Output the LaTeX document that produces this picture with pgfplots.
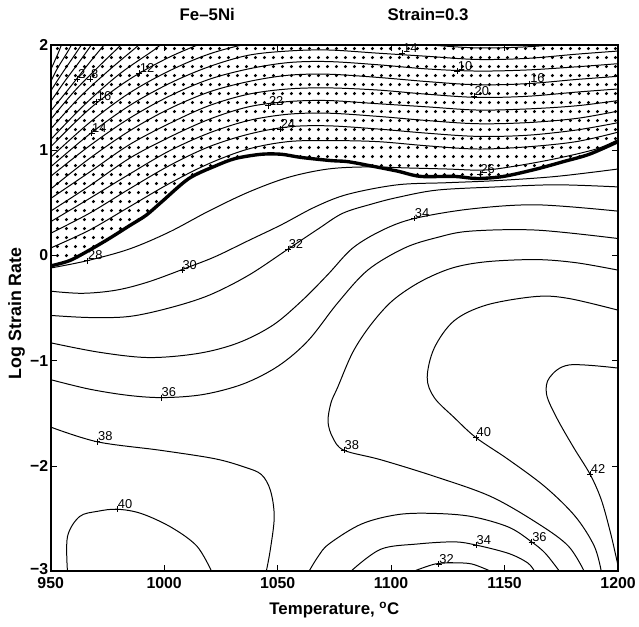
\documentclass[border=0pt]{standalone}
\usepackage{fontspec}
\setmainfont{Liberation Sans}
\usepackage{pgfplots}
\pgfplotsset{compat=1.18}
\usetikzlibrary{patterns}
\pgfdeclarepatternformonly{bigdots}{\pgfqpoint{0bp}{0bp}}{\pgfqpoint{9bp}{9bp}}{\pgfqpoint{9bp}{9bp}}{\pgfpathcircle{\pgfqpoint{4.5bp}{4.5bp}}{1.7bp}\pgfusepath{fill}}
\newcommand{\clabfont}{\fontsize{13}{13}\selectfont}
\newcommand{\clab}[3]{\node[anchor=south west,inner sep=0pt,font=\clabfont,xshift=0.5bp,yshift=0.5bp] at (axis cs:#1,#2) {#3};}
\begin{document}
\begin{tikzpicture}
\begin{axis}[name=ax,
  width=571bp, height=530bp, scale only axis,
  xmin=950, xmax=1200, ymin=-3, ymax=2,
  xtick={950,1000,1050,1100,1150,1200},
  ytick={-3,-2,-1,0,1,2},
  xticklabels={950,1000,1050,1100,1150,1200},
  yticklabels={\raisebox{4bp}{−3},−2,−1,0,1,2},
  tick align=inside, major tick length=6bp,
  major tick style={line width=0.9bp,black},
  axis line style={line width=1.8bp},
  ticklabel style={font=\fontsize{16}{16}\selectfont\bfseries},
  xticklabel style={yshift=-3bp},
  yticklabel style={xshift=1bp},
  clip mode=individual,
  xlabel={Temperature, \textsuperscript{o}C},
  ylabel={Log Strain Rate},
  xlabel style={at={(axis description cs:0.5,-0.074)},anchor=center,font=\fontsize{17}{17}\selectfont\bfseries},
  ylabel style={at={(axis description cs:-0.06,0.49)},anchor=center,font=\fontsize{18}{18}\selectfont\bfseries},
  cl/.style={black,line width=1bp,smooth,tension=0.55,forget plot},
]
% unstable (dotted) region
\addplot[draw=none,pattern=bigdots,pattern color=black,forget plot] coordinates {
(950.0,-0.10) (958.3,-0.05) (967.1,0.05) (975.8,0.16) (984.6,0.28) (992.0,0.38) (999.0,0.51) (1010.9,0.73) (1022.7,0.85) (1031.4,0.92) (1042.8,0.96) (1051.6,0.96) (1060.3,0.93) (1073.5,0.90) (1080.9,0.89) (1091.0,0.85) (1102.8,0.80) (1112.9,0.75) (1127.8,0.75) (1137.8,0.73) (1149.6,0.75) (1164.1,0.82) (1175.9,0.89) (1187.3,0.96) (1200.0,1.08) (1200,2) (950,2)} -- cycle;
% contours in the dotted region
\addplot[cl] coordinates {(950,0.07) (967.1,0.24) (984.6,0.46) (1002.1,0.68) (1019.6,0.87) (1037.1,1.01) (1054.6,1.08) (1072.2,1.09) (1094.0,1.08) (1115.9,1.04) (1137.8,1.01) (1159.7,1.03) (1181.6,1.08) (1200,1.17)};
\addplot[cl] coordinates {(950,0.21) (967.1,0.40) (984.6,0.63) (1002.1,0.85) (1019.6,1.03) (1037.1,1.15) (1054.6,1.22) (1072.2,1.23) (1094.0,1.20) (1115.9,1.16) (1137.8,1.13) (1159.7,1.14) (1181.6,1.19) (1200,1.26)};
\addplot[cl] coordinates {(950,0.32) (967.1,0.54) (984.6,0.77) (1002.1,0.99) (1019.6,1.16) (1037.1,1.28) (1054.6,1.34) (1072.2,1.35) (1094.0,1.32) (1115.9,1.28) (1137.8,1.25) (1159.7,1.26) (1181.6,1.30) (1200,1.37)};
\addplot[cl] coordinates {(950,0.42) (967.1,0.66) (984.6,0.92) (1002.1,1.12) (1019.6,1.29) (1037.1,1.41) (1054.6,1.46) (1072.2,1.47) (1094.0,1.44) (1115.9,1.41) (1137.8,1.38) (1159.7,1.39) (1181.6,1.42) (1200,1.47)};
\addplot[cl] coordinates {(950,0.54) (967.1,0.79) (984.6,1.05) (1002.1,1.25) (1019.6,1.42) (1037.1,1.53) (1054.6,1.58) (1072.2,1.59) (1094.0,1.57) (1115.9,1.53) (1137.8,1.50) (1159.7,1.51) (1181.6,1.55) (1200,1.58)};
\addplot[cl] coordinates {(950,0.63) (967.1,0.92) (984.6,1.18) (1002.1,1.39) (1019.6,1.55) (1037.1,1.65) (1054.6,1.71) (1072.2,1.72) (1094.0,1.69) (1115.9,1.65) (1137.8,1.62) (1159.7,1.63) (1181.6,1.67) (1200,1.70)};
\addplot[cl] coordinates {(950,0.75) (967.1,1.04) (984.6,1.30) (1002.1,1.51) (1019.6,1.67) (1037.1,1.77) (1054.6,1.83) (1072.2,1.84) (1094.0,1.81) (1115.9,1.77) (1137.8,1.75) (1159.7,1.76) (1181.6,1.79) (1200,1.82)};
\addplot[cl] coordinates {(950,0.84) (967.1,1.15) (984.6,1.42) (1002.1,1.63) (1019.6,1.79) (1037.1,1.90) (1054.6,1.94) (1072.2,1.95) (1094.0,1.92) (1115.9,1.89) (1137.8,1.86) (1159.7,1.87) (1181.6,1.91) (1200,1.94)};
\addplot[cl] coordinates {(950,0.93) (967.1,1.26) (984.6,1.54) (1002.1,1.75) (1019.6,1.91) (1037.1,2.01) (1054.6,2.06) (1072.2,2.07) (1094.0,2.04) (1115.9,2.00) (1137.8,1.97) (1159.7,1.98) (1181.6,2.02) (1200,2.06)};
\addplot[cl] coordinates {(950,1.03) (967.1,1.39) (984.6,1.67) (1002.1,1.88) (1019.6,2.04)};
\addplot[cl] coordinates {(950,1.10) (964.9,1.43) (980.2,1.72) (995.5,1.95) (999.9,2.03)};
\addplot[cl] coordinates {(950,1.20) (962.7,1.50) (975.8,1.76) (989.0,2.00) (991,2.05)};
\addplot[cl] coordinates {(950,1.29) (960.5,1.56) (971.5,1.80) (981.1,2.00) (983,2.05)};
\addplot[cl] coordinates {(950,1.37) (958.3,1.59) (967.1,1.83) (973.6,2.00) (975.5,2.05)};
\addplot[cl] coordinates {(950,1.46) (956.1,1.65) (962.7,1.84) (968.0,2.00) (969.6,2.05)};
\addplot[cl] coordinates {(950,1.56) (954.8,1.72) (960.5,1.90) (963.6,2.00) (965,2.05)};
\addplot[cl] coordinates {(950,1.65) (953.1,1.78) (957.4,1.93) (959.2,2.00) (960.5,2.05)};
\addplot[cl] coordinates {(950,1.76) (953.1,1.91) (954.8,2.00) (955.8,2.05)};
% contours in the stable region
\addplot[cl] coordinates {(950.0,-0.12) (966.2,-0.05) (984.6,0.06) (1002.1,0.22) (1019.6,0.42) (1037.1,0.60) (1054.6,0.74) (1072.2,0.82) (1089.7,0.84) (1107.2,0.83) (1124.7,0.82) (1140.9,0.81) (1155.3,0.85) (1172.9,0.92) (1190.4,1.01) (1200.0,1.10)};
\addplot[cl] coordinates {(950,-0.34) (964.0,-0.36) (978.9,-0.33) (993.3,-0.25) (1010.9,-0.11) (1022.7,-0.01) (1037.1,0.14) (1051.6,0.29) (1066.5,0.46) (1080.9,0.58) (1102.8,0.67) (1124.7,0.69) (1146.6,0.71) (1172.9,0.75) (1200,0.82)};
\addplot[cl] coordinates {(950,-0.57) (967.1,-0.59) (984.6,-0.58) (1002.1,-0.50) (1019.6,-0.38) (1037.1,-0.19) (1054.6,0.06) (1067.8,0.25) (1078.7,0.40) (1091.9,0.49) (1102.8,0.55) (1120.3,0.62) (1146.6,0.65) (1172.9,0.67) (1200,0.65)};
\addplot[cl] coordinates {(950,-0.83) (971.5,-0.92) (993.3,-0.97) (1015.2,-0.93) (1032.7,-0.83) (1048.1,-0.66) (1061.2,-0.42) (1072.2,-0.18) (1083.1,0.07) (1096.2,0.24) (1110.2,0.35) (1134.8,0.44) (1164.1,0.48) (1200,0.42)};
\addplot[cl] coordinates {(950,-1.18) (967.1,-1.27) (984.6,-1.33) (999.9,-1.35) (1017.4,-1.32) (1034.9,-1.22) (1050.3,-1.05) (1063.4,-0.81) (1076.5,-0.45) (1089.7,-0.14) (1105.9,0.07) (1120.3,0.17) (1134.8,0.23) (1164.1,0.24) (1200,0.16)};
\addplot[cl] coordinates {(950,-1.63) (970.6,-1.77) (998.2,-1.85) (1022.2,-1.93) (1035.4,-2.01) (1042.8,-2.08) (1046.8,-2.23) (1048.5,-2.48) (1046.8,-2.79) (1045.0,-3.00)};
\addplot[cl] coordinates {(957.4,-3.00) (957.4,-2.67) (962.7,-2.48) (970.6,-2.43) (979.3,-2.41) (989.8,-2.45) (1003.0,-2.58) (1014.4,-2.76) (1020.9,-3.00)};
\addplot[cl] coordinates {(1185.1,-3.00) (1178.1,-2.76) (1165.0,-2.55) (1144.0,-2.29) (1119.4,-2.10) (1095.4,-1.94) (1079.2,-1.85) (1074.3,-1.73) (1072.2,-1.58) (1073.5,-1.40) (1076.5,-1.25) (1083.1,-0.92) (1091.0,-0.66) (1100.6,-0.43) (1112.9,-0.25) (1126.9,-0.12) (1142.2,-0.06) (1164.1,-0.04) (1181.6,-0.07) (1200,-0.14)};
\addplot[cl] coordinates {(1200,-0.52) (1178.5,-0.41) (1164.1,-0.39) (1142.2,-0.47) (1127.8,-0.62) (1119.0,-0.88) (1115.9,-1.16) (1119.0,-1.35) (1127.8,-1.54) (1137.4,-1.73) (1151.8,-1.94) (1168.0,-2.20) (1181.2,-2.48) (1189.5,-2.76) (1192.6,-3.00)};
\addplot[cl] coordinates {(1200,-1.07) (1178.5,-1.04) (1169.8,-1.16) (1168.5,-1.32) (1172.9,-1.54) (1180.3,-1.82) (1187.7,-2.08) (1192.6,-2.32) (1196.5,-2.62) (1199.1,-2.86) (1200,-2.95)};
\addplot[cl] coordinates {(1063.8,-3.00) (1067.8,-2.86) (1072.6,-2.74) (1087.0,-2.55) (1103.2,-2.46) (1119.4,-2.45) (1135.6,-2.48) (1151.8,-2.58) (1161.9,-2.72) (1168.0,-2.83) (1174.2,-3.00)};
\addplot[cl] coordinates {(1082.2,-3.00) (1095.4,-2.79) (1111.6,-2.74) (1127.8,-2.72) (1137.4,-2.75) (1151.8,-2.83) (1160.2,-2.92) (1163.2,-3.00)};
\addplot[cl] coordinates {(1109.8,-3.00) (1119.4,-2.93) (1127.8,-2.92) (1135.6,-2.93) (1144.0,-3.00)};
% instability boundary
\addplot[black,line width=3.4bp,smooth,tension=0.5,forget plot] coordinates {
(950.0,-0.10) (958.3,-0.05) (967.1,0.05) (975.8,0.16) (984.6,0.28) (992.0,0.38) (999.0,0.51) (1010.9,0.73) (1022.7,0.85) (1031.4,0.92) (1042.8,0.96) (1051.6,0.96) (1060.3,0.93) (1073.5,0.90) (1080.9,0.89) (1091.0,0.85) (1102.8,0.80) (1112.9,0.75) (1127.8,0.75) (1137.8,0.73) (1149.6,0.75) (1164.1,0.82) (1175.9,0.89) (1187.3,0.96) (1200.0,1.08)};
% contour label marks
\addplot[only marks,mark=+,mark size=3bp,mark options={line width=0.7bp,black},forget plot] coordinates {
(966.2,-0.05) (1007.8,-0.14) (1054.6,0.06) (1110.2,0.35) (998.6,-1.35) (970.6,-1.77) (1079.2,-1.85) (1137.4,-1.73) (1187.7,-2.08) (979.3,-2.41) (1137.4,-2.75) (1161.9,-2.72) (1121.0,-2.93)
(961.8,1.67) (967.5,1.67) (970.1,1.46) (968.0,1.16) (989.0,1.73) (1045.9,1.42) (1051.1,1.20) (1105.0,1.92) (1129.1,1.75) (1161.0,1.63) (1136.5,1.51) (1139.1,0.77)};
\clab{966.2}{-0.05}{28}
\clab{1007.8}{-0.14}{30}
\clab{1054.6}{0.06}{32}
\clab{1110.2}{0.35}{34}
\clab{998.6}{-1.35}{36}
\clab{970.6}{-1.77}{38}
\clab{1079.2}{-1.85}{38}
\clab{1137.4}{-1.73}{40}
\clab{1187.7}{-2.08}{42}
\clab{979.3}{-2.41}{40}
\clab{1137.4}{-2.75}{34}
\clab{1161.9}{-2.72}{36}
\clab{1121.0}{-2.93}{32}
\clab{961.8}{1.67}{2}
\clab{967.5}{1.67}{8}
\clab{970.1}{1.46}{16}
\clab{968.0}{1.16}{14}
\clab{989.0}{1.73}{12}
\clab{1045.9}{1.42}{22}
\clab{1051.1}{1.20}{24}
\clab{1105.0}{1.92}{14}
\clab{1129.1}{1.75}{10}
\clab{1161.0}{1.63}{16}
\clab{1136.5}{1.51}{20}
\clab{1139.1}{0.77}{26}
% titles
\node[font=\fontsize{17}{17}\selectfont\bfseries] at (axis description cs:0.276,1.058) {Fe–5Ni};
\node[font=\fontsize{17}{17}\selectfont\bfseries] at (axis description cs:0.665,1.058) {Strain=0.3};
\end{axis}
\path (ax.south west) ++(-51bp,-55bp) rectangle ++(639bp,630bp);
\end{tikzpicture}
\end{document}
